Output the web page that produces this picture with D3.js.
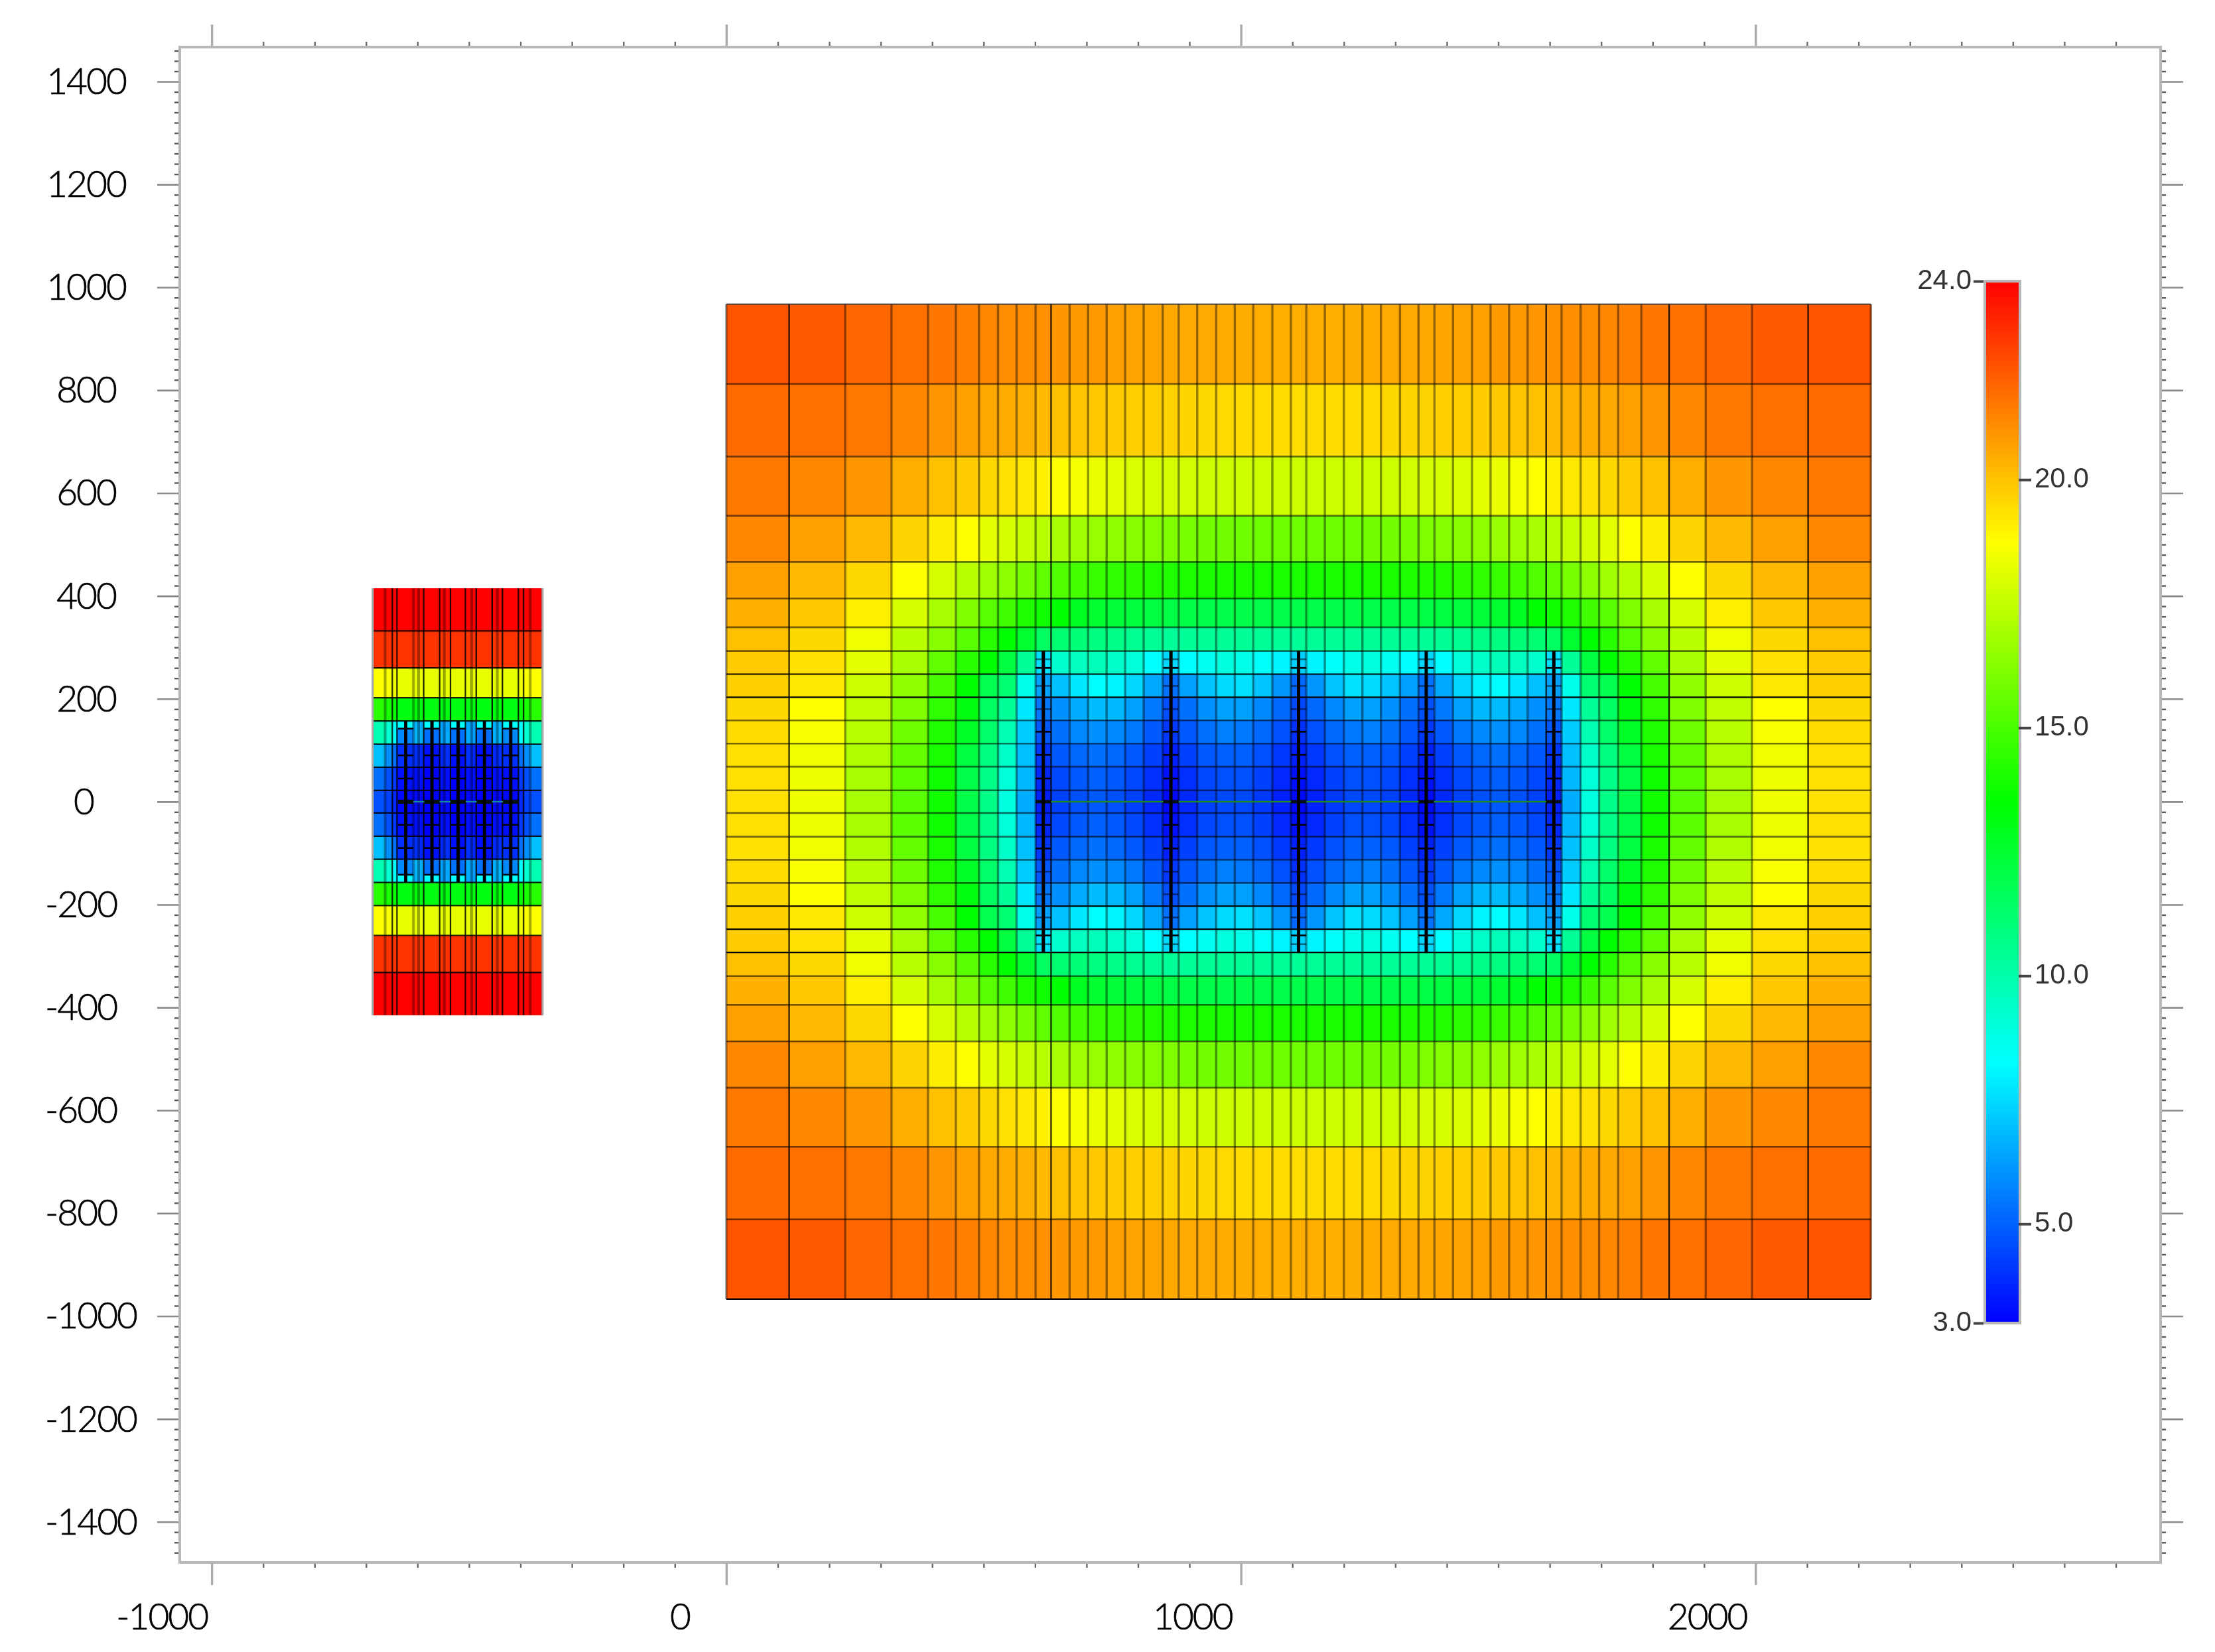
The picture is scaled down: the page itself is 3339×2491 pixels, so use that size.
<!DOCTYPE html>
<html>
<head>
<meta charset="utf-8">
<script src="https://cdn.jsdelivr.net/npm/d3@7"></script>
<style>
  html, body { margin: 0; padding: 0; background: #fff; }
  svg { display: block; }
</style>
</head>
<body>
<svg id="chart"></svg>
<script>
(function(window, document) {
  'use strict';

  const xTicks = [-1000, 0, 1000, 2000];
  const yTicks = [1400, 1200, 1000, 800, 600, 400, 200, 0, -200, -400, -600, -800, -1000, -1200, -1400];

  // Colour map of the legend
  const colorDomain = [3, 8.25, 13.5, 18.75, 24];
  const colorRange = ['#0000ff', '#00ffff', '#00ff00', '#ffff00', '#ff0000'];
  const legendLeftTicks = [3, 24];
  const legendRightTicks = [5, 10, 15, 20];

  // Large grid, cell edges
  const bigX = [0, 122, 231, 321, 392, 446, 491, 528, 564, 601, 631, 667, 703, 739, 775, 811, 848, 879, 915, 952, 988, 1024, 1061, 1097,
    1127, 1163, 1200, 1236, 1272, 1309, 1345, 1376, 1412, 1449, 1485, 1521, 1557, 1593, 1623, 1660, 1696, 1733, 1778, 1832, 1903, 1993, 2102, 2224];
  const bigY = [967, 812, 671, 556, 466, 395, 339, 293, 248, 203, 158, 113, 68, 22,
    -22, -68, -113, -158, -203, -248, -293, -339, -395, -466, -556, -671, -812, -967];
  const bigSharpX = [122, 631, 1593, 1832, 2102];
  const bigSharpY = [248, 203, -203, -248, -293, -967];

  // Large grid, values of the upper left quarter (the field is mirrored on both centre lines)
  const bigRow1 = [22.25, 22.15, 21.9, 21.7, 21.55, 21.36, 21.2, 21.1, 21.05, 21.04, 20.9, 20.85, 20.8, 20.7, 20.65, 20.6, 20.54, 20.5, 20.5, 20.48, 20.46, 20.44, 20.42, 20.42];
  const bigRow2 = [21.8, 21.7, 21.5, 21.2, 20.93, 20.7, 20.54, 20.48, 20.33, 20.2, 20.05, 19.96, 19.88, 19.8, 19.74, 19.72, 19.66, 19.61, 19.55, 19.53, 19.5, 19.49, 19.47, 19.45];
  const bigRow3 = [21.53, 21.2, 20.87, 20.42, 20.05, 19.8, 19.55, 19.39, 19.2, 19.02, 18.75, 18.54, 18.36, 18.2, 18.03, 17.95, 17.86, 17.78, 17.74, 17.74, 17.72, 17.7, 17.7, 17.7];
  const bigRow4 = [21.2, 20.7, 20.2, 19.63, 19.1, 18.75, 18.2, 17.95, 17.62, 17.29, 16.96, 16.79, 16.63, 16.46, 16.3, 16.22, 16.14, 15.97, 15.89, 15.85, 15.8, 15.8, 15.8, 15.8];
  const bigRow5 = [20.7, 20.2, 19.55, 18.75, 17.95, 17.29, 16.79, 16.38, 15.97, 15.48, 15.15, 14.9, 14.65, 14.49, 14.4, 14.24, 14.16, 14.08, 14.04, 14, 14, 14, 14, 14];
  const bigRow6 = [20.38, 19.88, 19.06, 17.95, 16.96, 16.14, 15.31, 14.82, 14.16, 13.83, 13.5, 12.84, 12.5, 12.35, 12.25, 12.15, 12.1, 12.05, 12.02, 12.02, 12.02, 12.02, 12.02, 12.02];
  const bigRow7 = [20.05, 19.55, 18.44, 17.29, 16.3, 15.31, 14.32, 13.5, 12.51, 11.52, 11.19, 11.03, 10.86, 10.7, 10.54, 10.45, 10.37, 10.37, 10.37, 10.37, 10.37, 10.37, 10.37, 10.37];
  const bigRow8 = [19.8, 19.39, 18.2, 16.96, 15.48, 14.32, 13.5, 12.18, 10.37, 7.61, 9.3, 9.55, 9.71, 9.38, 9.05, 8.25, 7.45, 8.25, 8.56, 8.97, 8.72, 8.4, 8.02, 7.28];
  const bigRow9 = [19.72, 19.22, 17.7, 16.46, 14.98, 13.5, 11.85, 11.19, 8.72, 6.29, 6.95, 7.78, 8.25, 8.02, 7.45, 6.46, 5.31, 6.29, 7.04, 7.53, 7.61, 7.04, 6.13, 5.14];
  const bigRow10 = [19.55, 18.75, 17.45, 16.14, 14.49, 13.17, 11.52, 10.37, 7.78, 5.47, 5.96, 6.54, 6.87, 6.79, 6.29, 5.47, 4.65, 5.31, 5.96, 6.29, 6.29, 5.8, 5.14, 4.48];
  const bigRow11 = [19.47, 18.6, 17.29, 15.8, 14.16, 12.68, 11.36, 9.88, 7.2, 4.81, 5.31, 5.8, 5.96, 5.8, 5.47, 4.81, 4.15, 4.81, 5.31, 5.64, 5.47, 5.14, 4.65, 3.99];
  const bigRow12 = [19.39, 18.44, 17.12, 15.56, 13.99, 12.18, 10.86, 9.38, 6.95, 4.15, 4.81, 5.14, 5.31, 5.14, 4.81, 4.32, 3.66, 4.32, 4.81, 4.98, 4.98, 4.65, 4.15, 3.66];
  const bigRow13 = [19.39, 18.4, 16.96, 15.39, 13.83, 12.02, 10.7, 9.05, 6.79, 3.82, 4.48, 4.81, 4.98, 4.81, 4.48, 3.99, 3.33, 3.99, 4.48, 4.65, 4.65, 4.32, 3.82, 3.33];
  const bigRow14 = [19.39, 18.4, 16.96, 15.3, 13.83, 12.02, 10.7, 8.89, 6.54, 3.66, 4.32, 4.65, 4.81, 4.65, 4.32, 3.82, 3.16, 3.82, 4.32, 4.48, 4.48, 4.15, 3.66, 3.16];
  const bigQuarter = [bigRow1, bigRow2, bigRow3, bigRow4, bigRow5, bigRow6, bigRow7, bigRow8, bigRow9, bigRow10, bigRow11, bigRow12, bigRow13, bigRow14];

  const bigWells = [616, 864, 1112, 1360, 1608];
  const bigWellTop = 293;
  const bigWellTicks = [277, 260, 225, 180, 136, 91, 45, -45, -91, -136, -180, -225, -260, -277];
  const bigWellStrongTicks = [260, 136, 91, 45, -45, -91, -260];

  // Small grid, cell edges
  const smallX = [-687, -663, -649, -640, -608, -598, -588, -557, -548, -536, -507, -495, -486, -455, -445, -435, -404, -394, -381, -357];
  const smallRowEdges = [415, 332, 260, 202, 157, 142, 112, 67, 22, -22, -67, -112, -142, -157, -202, -260, -332, -415];
  const smallY = [415, 332, 260, 202, 157, 112, 67, 22, -22, -67, -112, -157, -202, -260, -332, -415];
  const smallSoftX = [-663, -608, -598, -548, -495, -445, -381];

  // Small grid, values of the upper left quarter
  const smallRow1 = [24, 24, 24, 24, 24, 24, 24, 24, 24, 24];
  const smallRow2 = [22.95, 22.95, 22.95, 22.95, 22.95, 22.95, 22.95, 22.95, 22.95, 22.95];
  const smallRow3 = [18.75, 18.6, 18.44, 18.28, 18.28, 18.28, 18.28, 18.28, 18.28, 18.28];
  const smallRow4 = [14.32, 13.99, 13.66, 13.17, 13.33, 13.17, 13.17, 13.17, 13.17, 13.17];
  const smallRow5 = [9.88, 9.2, 8.25, 8.25, 6.79, 6.62, 8.25, 6.29, 6.46, 8.25];
  const smallRow6 = [9.88, 9.2, 8.25, 5.8, 6.79, 6.62, 5.31, 6.29, 6.46, 5.31];
  const smallRow7 = [6.95, 5.96, 5.31, 3.99, 3.99, 3.82, 3.33, 3.82, 3.99, 3.33];
  const smallRow8 = [5.31, 4.65, 4.15, 3.33, 3.33, 3.33, 3, 3.33, 3.33, 3];
  const smallRow9 = [4.65, 4.32, 3.82, 3.16, 3.16, 3.16, 3, 3.16, 3.16, 3];
  const smallQuarter = [smallRow1, smallRow2, smallRow3, smallRow4, smallRow5, smallRow6, smallRow7, smallRow8, smallRow9];

  const smallWells = [-623, -572, -521, -470, -419];
  const smallWellTop = 157;
  const smallWellTicks = [142, 90, 45, -45, -90, -142];

  const width = 3339;
  const height = 2491;
  const frame = { left: 271, right: 3257, top: 71, bottom: 2356 };

  const x = d3.scaleLinear().domain([-1062, 2787]).range([frame.left, frame.right]);
  const y = d3.scaleLinear().domain([1467, -1479]).range([frame.top, frame.bottom]);
  const color = d3.scaleLinear().domain(colorDomain).range(colorRange);
  const legendY = d3.scaleLinear().domain([3, 24]).range([1995, 424]);

  const svg = d3.select('#chart')
    .attr('width', width)
    .attr('height', height)
    .style('filter', 'blur(0.7px)');

  function mirror(list) {
    return list.concat(list.slice(0, -1).reverse());
  }

  function drawCells(g, rows, xEdges, yEdges) {
    rows.forEach((row, r) => {
      g.selectAll(null)
        .data(row)
        .enter()
        .append('rect')
        .attr('x', (d, i) => x(xEdges[i]))
        .attr('y', y(yEdges[r]))
        .attr('width', (d, i) => x(xEdges[i + 1]) - x(xEdges[i]) + 0.5)
        .attr('height', y(yEdges[r + 1]) - y(yEdges[r]) + 0.5)
        .attr('fill', d => color(d))
        .attr('shape-rendering', 'crispEdges');
    });
  }

  function vertical(g, list, y0, y1, stroke, sw) {
    g.selectAll(null)
      .data(list)
      .enter()
      .append('line')
      .attr('x1', d => x(d))
      .attr('x2', d => x(d))
      .attr('y1', y(y0))
      .attr('y2', y(y1))
      .attr('stroke', stroke)
      .attr('stroke-width', sw);
  }

  function horizontal(g, list, x0, x1, stroke, sw) {
    g.selectAll(null)
      .data(list)
      .enter()
      .append('line')
      .attr('x1', x(x0))
      .attr('x2', x(x1))
      .attr('y1', d => y(d))
      .attr('y2', d => y(d))
      .attr('stroke', stroke)
      .attr('stroke-width', sw);
  }

  // Large grid
  let big = svg.append('g');
  drawCells(big, mirror(bigQuarter).map(mirror), bigX, bigY);
  vertical(big, bigX.filter(d => !bigSharpX.includes(d)), bigY[0], bigY[bigY.length - 1], 'rgba(0,0,0,0.42)', 3.4);
  horizontal(big, bigY.filter(d => !bigSharpY.includes(d)), bigX[0], bigX[bigX.length - 1], 'rgba(0,0,0,0.55)', 2.6);
  vertical(big, bigSharpX, bigY[0], bigY[bigY.length - 1], 'rgba(0,0,0,0.88)', 2.2);
  horizontal(big, bigSharpY, bigX[0], bigX[bigX.length - 1], '#000', 2.2);

  // Small grid
  let small = svg.append('g');
  drawCells(small, mirror(smallQuarter).map(mirror), smallX, smallRowEdges);
  vertical(small, smallX.filter(d => !smallSoftX.includes(d)), smallY[0], smallY[smallY.length - 1], 'rgba(0,0,0,0.85)', 2.2);
  vertical(small, smallSoftX, smallY[0], smallY[smallY.length - 1], 'rgba(0,0,0,0.34)', 4);
  horizontal(small, smallY.slice(1, -1), smallX[0], smallX[smallX.length - 1], 'rgba(0,0,0,0.88)', 2.2);
  vertical(small, [smallX[0], smallX[smallX.length - 1]], smallY[0], smallY[smallY.length - 1], '#a8a8a8', 3);

  // Wells with their perforation ticks
  function drawWells(g, wells, top, ticks, strong, span, sw, centerWidth, lineColor) {
    g.append('line')
      .attr('x1', x(wells[0]))
      .attr('x2', x(wells[wells.length - 1]))
      .attr('y1', y(0))
      .attr('y2', y(0))
      .attr('stroke', lineColor)
      .attr('stroke-width', 2.4);
    wells.forEach(w => {
      g.selectAll(null)
        .data(ticks)
        .enter()
        .append('line')
        .attr('x1', x(w - span))
        .attr('x2', x(w + span))
        .attr('y1', d => y(d))
        .attr('y2', d => y(d))
        .attr('stroke', d => strong.includes(d) ? '#000' : 'rgba(0,0,0,0.5)')
        .attr('stroke-width', 2.6);
      g.append('line')
        .attr('x1', x(w - span))
        .attr('x2', x(w + span))
        .attr('y1', y(0))
        .attr('y2', y(0))
        .attr('stroke', '#050f05')
        .attr('stroke-width', centerWidth);
      g.append('line')
        .attr('x1', x(w))
        .attr('x2', x(w))
        .attr('y1', y(top))
        .attr('y2', y(-top))
        .attr('stroke', '#000')
        .attr('stroke-width', sw);
    });
  }
  drawWells(svg.append('g'), bigWells, bigWellTop, bigWellTicks, bigWellStrongTicks, 15, 5, 5, '#1e8a1e');
  drawWells(svg.append('g'), smallWells, smallWellTop, smallWellTicks, smallWellTicks, 15, 5, 6, '#1a86a0');

  // Frame and axes
  const frameColor = '#b8b8b8';
  const majorLength = 34;
  const minorLength = 8;
  const xMinor = d3.range(-1000, 2800, 100).filter(d => !xTicks.includes(d));
  const yMinor = d3.range(-1460, 1461, 20).filter(d => !yTicks.includes(d));

  function axis(maker, scale, values, len, transform, stroke, sw) {
    let g = svg.append('g')
      .attr('transform', transform)
      .call(maker(scale).tickValues(values).tickSize(len).tickSizeOuter(0).tickFormat(''));
    g.select('.domain').remove();
    g.selectAll('line').attr('stroke', stroke).attr('stroke-width', sw);
  }

  axis(d3.axisBottom, x, xMinor, minorLength, `translate(0,${frame.bottom})`, '#6a6a6a', 2.4);
  axis(d3.axisTop, x, xMinor, minorLength, `translate(0,${frame.top})`, '#6a6a6a', 2.4);
  axis(d3.axisLeft, y, yMinor, minorLength, `translate(${frame.left},0)`, '#5a5a5a', 2.4);
  axis(d3.axisRight, y, yMinor, minorLength, `translate(${frame.right},0)`, '#5a5a5a', 2.4);
  axis(d3.axisBottom, x, xTicks, majorLength, `translate(0,${frame.bottom})`, '#ababab', 3.4);
  axis(d3.axisTop, x, xTicks, majorLength, `translate(0,${frame.top})`, '#ababab', 3.4);
  axis(d3.axisLeft, y, yTicks, majorLength, `translate(${frame.left},0)`, '#8a8a8a', 2.6);
  axis(d3.axisRight, y, yTicks, majorLength, `translate(${frame.right},0)`, '#8a8a8a', 2.6);

  svg.append('rect')
    .attr('x', frame.left)
    .attr('y', frame.top)
    .attr('width', frame.right - frame.left)
    .attr('height', frame.bottom - frame.top)
    .attr('fill', 'none')
    .attr('stroke', frameColor)
    .attr('stroke-width', 4);

  // Axis labels
  const labelFont = 'Lato, "Open Sans", sans-serif';

  svg.selectAll('.ylabel')
    .data(yTicks)
    .enter()
    .append('text')
    .attr('class', 'ylabel')
    .attr('x', d => d < 0 ? 68 : (d === 0 ? 126 : 130))
    .attr('y', d => y(d) + 19)
    .attr('text-anchor', d => d < 0 ? 'start' : 'middle')
    .style('font-family', labelFont)
    .style('font-weight', 300)
    .style('font-size', '55px')
    .style('letter-spacing', '-2px')
    .style('fill', '#000')
    .style('stroke', '#000')
    .style('stroke-width', 0.7)
    .text(d => d);

  svg.selectAll('.xlabel')
    .data(xTicks)
    .enter()
    .append('text')
    .attr('class', 'xlabel')
    .attr('x', d => d === 0 ? x(d) - 55 : (d > 0 ? x(d) - 13 : x(d) - 6))
    .attr('y', 2457)
    .attr('text-anchor', 'end')
    .style('font-family', labelFont)
    .style('font-weight', 300)
    .style('font-size', '55px')
    .style('letter-spacing', '-2px')
    .style('fill', '#000')
    .style('stroke', '#000')
    .style('stroke-width', 0.7)
    .text(d => d);

  // Colour legend
  const legend = { left: 2992, right: 3045 };
  let gradient = svg.append('defs')
    .append('linearGradient')
    .attr('id', 'legend-gradient')
    .attr('x1', 0)
    .attr('x2', 0)
    .attr('y1', 1)
    .attr('y2', 0);
  gradient.selectAll('stop')
    .data(colorDomain)
    .enter()
    .append('stop')
    .attr('offset', d => (d - 3) / 21)
    .attr('stop-color', d => color(d));

  svg.append('rect')
    .attr('x', legend.left)
    .attr('y', legendY(24))
    .attr('width', legend.right - legend.left)
    .attr('height', legendY(3) - legendY(24))
    .attr('fill', 'url(#legend-gradient)')
    .attr('stroke', frameColor)
    .attr('stroke-width', 4);

  function legendAxis(maker, values, len, pos, anchor, labelX) {
    let g = svg.append('g')
      .attr('transform', `translate(${pos},0)`)
      .call(maker(legendY).tickValues(values).tickSize(len).tickSizeOuter(0).tickFormat(''));
    g.select('.domain').remove();
    g.selectAll('line').attr('stroke', '#444').attr('stroke-width', 4);
    svg.selectAll(null)
      .data(values)
      .enter()
      .append('text')
      .attr('x', labelX)
      .attr('y', d => legendY(d) + 12)
      .attr('text-anchor', anchor)
      .style('font-family', '"Liberation Sans", Arial, sans-serif')
      .style('font-size', '42px')
      .style('fill', '#333')
      .text(d => d.toFixed(1));
  }
  legendAxis(d3.axisLeft, legendLeftTicks, 15, legend.left - 2, 'end', 2972);
  legendAxis(d3.axisRight, legendRightTicks, 19, legend.right - 2, 'start', 3067);

})(window, document);
</script>
</body>
</html>
